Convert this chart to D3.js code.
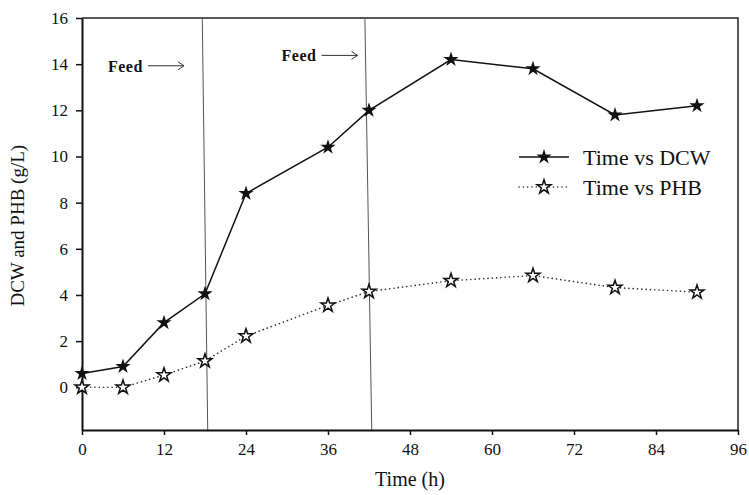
<!DOCTYPE html>
<html>
<head>
<meta charset="utf-8">
<script src="https://cdn.jsdelivr.net/npm/d3@7"></script>
<style>
  body { margin: 0; background: #fff; }
  text { font-family: "Liberation Serif", "Times New Roman", serif; fill: #111; }
</style>
</head>
<body>
<div id="chart"></div>
<script>
// Data
const times = [0, 6, 12, 18, 24, 36, 42, 54, 66, 78, 90];
const dcw = [0.6, 0.9, 2.8, 4.05, 8.4, 10.4, 12.0, 14.2, 13.8, 11.8, 12.2];
const phb = [0.0, 0.0, 0.53, 1.14, 2.22, 3.55, 4.15, 4.62, 4.84, 4.32, 4.12];
const xTicks = [0, 12, 24, 36, 48, 60, 72, 84, 96];
const yTicks = [0, 2, 4, 6, 8, 10, 12, 14, 16];
// feed markers (slightly slanted in the original scan): time at top / bottom of plot
const feedTop = [17.6, 41.4];
const feedBottom = [18.4, 42.4];
const feedLabelT = [3.8, 29.2];
const feedLabelY = [13.67, 14.12];
const legendNames = ["Time vs DCW", "Time vs PHB"];

const svg = d3.select("#chart").append("svg")
  .attr("width", 749)
  .attr("height", 495);

const margin = { top: 18, right: 11, bottom: 65, left: 82 };
const width = 749 - margin.left - margin.right;
const height = 495 - margin.top - margin.bottom;
const chart = svg.append("g").attr("transform", `translate(${margin.left},${margin.top})`);

const x = d3.scaleLinear().domain([0, 96]).range([0, width]);
const y = d3.scaleLinear().domain([-1.85, 16]).range([height, 0]);

// frame top / right
chart.append("path")
  .attr("d", `M0,0H${width}V${height}`)
  .attr("fill", "none")
  .attr("stroke", "#222")
  .attr("stroke-width", 1.5);

// feed lines
chart.selectAll(".feed")
  .data(feedTop)
  .join("line")
  .attr("class", "feed")
  .attr("x1", d => x(d))
  .attr("y1", y(16))
  .attr("x2", (d, i) => x(feedBottom[i]))
  .attr("y2", y(-1.85))
  .attr("stroke", "#555")
  .attr("stroke-width", 1);

// axes
const xAxis = chart.append("g")
  .attr("transform", `translate(0,${height})`)
  .call(d3.axisBottom(x).tickValues(xTicks).tickSize(5).tickSizeOuter(0).tickPadding(8));
const yAxis = chart.append("g")
  .call(d3.axisLeft(y).tickValues(yTicks).tickSize(6).tickSizeOuter(0).tickPadding(8));
[xAxis, yAxis].forEach(a => {
  a.select(".domain").attr("stroke", "#111").attr("stroke-width", 2);
  a.selectAll(".tick line").attr("stroke", "#111").attr("stroke-width", 1.5);
  a.selectAll(".tick text")
    .style("font-family", "Liberation Serif, serif")
    .style("font-size", "17px")
    .attr("fill", "#111");
});

// axis titles
svg.append("text")
  .attr("x", margin.left + x(48))
  .attr("y", 486)
  .attr("text-anchor", "middle")
  .style("font-size", "20px")
  .text("Time (h)");
svg.append("text")
  .attr("transform", `translate(24,${margin.top + y(7)}) rotate(-90)`)
  .attr("text-anchor", "middle")
  .style("font-size", "19px")
  .text("DCW and PHB (g/L)");

// series lines
const line = d3.line()
  .x((d, i) => x(times[i]))
  .y(d => y(d));

chart.append("path")
  .datum(dcw)
  .attr("d", line)
  .attr("fill", "none")
  .attr("stroke", "#111")
  .attr("stroke-width", 1.5);

chart.append("path")
  .datum(phb)
  .attr("d", line)
  .attr("fill", "none")
  .attr("stroke", "#333")
  .attr("stroke-width", 1.6)
  .attr("stroke-linecap", "round")
  .attr("stroke-dasharray", "0.1,4.2");

const star = d3.symbol().type(d3.symbolStar);

chart.selectAll(".dcw")
  .data(dcw)
  .join("path")
  .attr("class", "dcw")
  .attr("transform", (d, i) => `translate(${x(times[i])},${y(d)})`)
  .attr("d", star.size(72))
  .attr("fill", "#111");

chart.selectAll(".phb")
  .data(phb)
  .join("path")
  .attr("class", "phb")
  .attr("transform", (d, i) => `translate(${x(times[i])},${y(d)})`)
  .attr("d", star.size(60))
  .attr("fill", "#fff")
  .attr("stroke", "#111")
  .attr("stroke-width", 1.5);

// feed annotations
const feed = chart.selectAll(".feedLabel")
  .data(feedLabelT)
  .join("g")
  .attr("class", "feedLabel")
  .attr("transform", (d, i) => `translate(${x(d)},${y(feedLabelY[i])})`);
feed.append("text")
  .style("font-size", "16px")
  .style("font-weight", "bold")
  .style("letter-spacing", "0.5px")
  .text("Feed");
feed.append("path")
  .attr("d", "M40,-6H76M70,-10L76,-6L70,-2")
  .attr("fill", "none")
  .attr("stroke", "#333")
  .attr("stroke-width", 1);

// legend
const legend = svg.append("g").attr("transform", "translate(519,157)");
const items = legend.selectAll("g")
  .data(legendNames)
  .join("g")
  .attr("transform", (d, i) => `translate(0,${i * 30})`);
items.append("line")
  .attr("x1", 0).attr("x2", 50)
  .attr("stroke", (d, i) => i === 0 ? "#111" : "#333")
  .attr("stroke-width", (d, i) => i === 0 ? 1.5 : 1.6)
  .attr("stroke-linecap", (d, i) => i === 0 ? "butt" : "round")
  .attr("stroke-dasharray", (d, i) => i === 0 ? null : "0.1,4.2");
items.append("path")
  .attr("transform", "translate(25,0)")
  .attr("d", (d, i) => star.size(i === 0 ? 72 : 60)())
  .attr("fill", (d, i) => i === 0 ? "#111" : "#fff")
  .attr("stroke", (d, i) => i === 0 ? "none" : "#111")
  .attr("stroke-width", 1.5);
items.append("text")
  .attr("x", 64)
  .attr("y", 8)
  .style("font-size", "22px")
  .text(d => d);
</script>
</body>
</html>
